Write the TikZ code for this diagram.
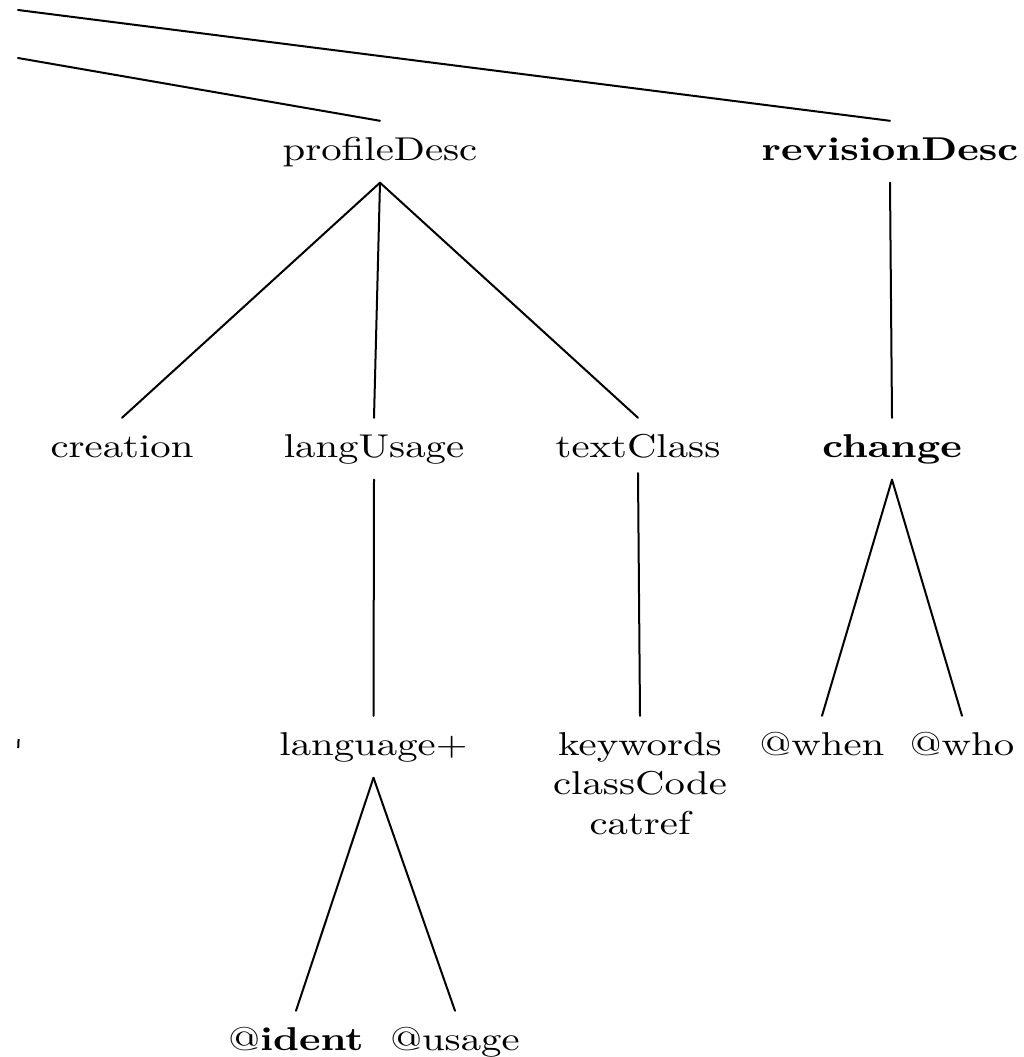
\documentclass[tikz,border=0pt]{standalone}
\usepackage{graphicx}
% labels are set at 10pt and enlarged, wider than tall
\newcommand\wide[1]{\scalebox{4.08}[3.3]{#1}}
\tikzset{
  tn/.style={anchor=base, inner xsep=0pt, inner ysep=16pt, text height=23pt, text depth=6.5pt},
  stacknode/.style={anchor=base, inner xsep=0pt, inner ysep=16pt, text height=23pt},
  edge/.style={line width=2pt, line cap=round}
}
\begin{document}
\begin{tikzpicture}[x=1pt, y=-1pt]
\useasboundingbox (0,0) rectangle (1024,1057);

% upper ends of the branches coming from the left
\coordinate (upA) at (18,10);
\coordinate (upB) at (18,58);

% first level
\node[tn] (pd) at (380,160) {\wide{profileDesc}};
\node[tn] (rd) at (890,160) {\wide{\textbf{revisionDesc}}};

% second level
\node[tn] (cr) at (122,457) {\wide{creation}};
\node[tn] (lu) at (374,457) {\wide{langUsage}};
\node[tn, text depth=0pt] (tc) at (638,457) {\wide{textClass}};
\node[tn] (ch) at (892,457) {\wide{\textbf{change}}};

% third level
\node[tn] (la) at (373.5,755) {\wide{language+}};
\node[stacknode] (kw) at (640,755) {\wide{\begin{tabular}[t]{@{}c@{}}keywords\\classCode\\catref\end{tabular}}};
\node[tn] (wh) at (822,755) {\wide{@when}};
\node[tn] (wo) at (962,755) {\wide{@who}};

% fourth level
\node[tn] (id) at (296,1050) {\wide{@\textbf{ident}}};
\node[tn] (us) at (455,1050) {\wide{@usage}};

% connectors
\draw[edge] (upA) -- (rd.north);
\draw[edge] (upB) -- (pd.north);
\draw[edge] (pd.south) -- (cr.north);
\draw[edge] (pd.south) -- (lu.north);
\draw[edge] (pd.south) -- (tc.north);
\draw[edge] (rd.south) -- (ch.north);
\draw[edge] (lu.south) -- (la.north);
\draw[edge] (tc.south) -- (kw.north);
\draw[edge] (ch.south) -- (wh.north);
\draw[edge] (ch.south) -- (wo.north);
\draw[edge] (la.south) -- (id.north);
\draw[edge] (la.south) -- (us.north);

% fragment of a label cut off at the left edge
\draw[line width=2pt] (18.6,739) -- (18.2,748);
\end{tikzpicture}
\end{document}
